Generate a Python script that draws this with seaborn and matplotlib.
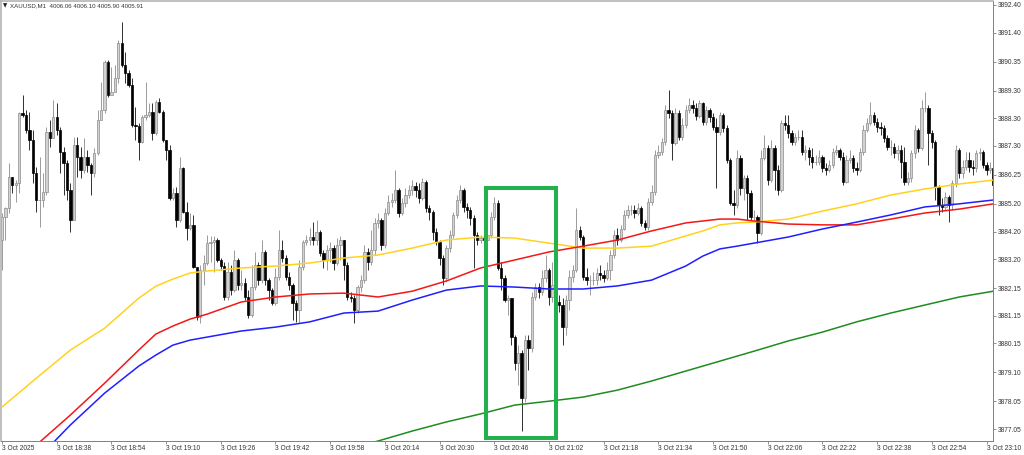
import numpy as np
import pandas as pd
import matplotlib
matplotlib.use("Agg")
import matplotlib.pyplot as plt
from matplotlib.patches import Rectangle
import seaborn as sns

sns.set_theme(style="white")
plt.rcParams["font.family"] = ["Liberation Sans", "DejaVu Sans"]

# ------------------------------------------------------------------
# DATA  (XAUUSD M1, 3 Oct 18:22 -> 23:12, one bar per minute)
# ------------------------------------------------------------------
first_time = "2025-10-03 18:22"
first_open = 3883.89

closes = [
    3884.73, 3885.05, 3886.18, 3885.88, 3885.95, 3888.49, 3888.42, 3887.87, 3887.51, 3886.32,
    3885.34, 3885.34, 3885.63, 3887.80, 3887.58, 3888.35, 3887.87, 3887.08, 3886.68, 3885.70,
    3884.62, 3887.33, 3886.90, 3886.43, 3886.90, 3886.61, 3886.32, 3887.04, 3888.24, 3888.60,
    3890.34, 3889.14, 3889.25, 3889.76, 3891.02, 3890.23, 3889.94, 3889.50, 3888.06, 3888.02,
    3887.44, 3888.35, 3888.42, 3888.52, 3887.76, 3888.89, 3888.52, 3887.51, 3887.15, 3885.41,
    3885.59, 3884.62, 3886.50, 3884.91, 3884.33, 3884.44, 3882.91, 3881.11,
    3882.81, 3883.06, 3883.78, 3883.82, 3883.89, 3883.17, 3882.95, 3881.83, 3882.73, 3882.08,
    3883.17, 3882.26, 3882.33, 3881.83, 3881.18, 3882.19, 3882.99, 3882.44, 3883.46, 3882.44,
    3882.08, 3881.61, 3882.55, 3883.53, 3883.24, 3882.55, 3882.26, 3881.61, 3881.36, 3882.91,
    3883.82, 3883.89, 3884.00, 3883.89, 3884.18, 3883.42, 3883.17, 3883.53, 3883.60, 3883.06,
    3883.71, 3883.89, 3882.99,
    3881.83, 3881.79, 3881.36, 3882.19, 3882.44, 3883.46, 3883.10, 3883.53, 3884.51,
    3884.62, 3883.71, 3884.87, 3885.27, 3885.34, 3885.70, 3884.87, 3885.23, 3885.52, 3885.70,
    3885.85, 3885.70, 3885.41, 3885.99, 3885.05, 3884.91, 3884.18, 3883.82, 3883.24, 3882.52,
    3883.60, 3884.07, 3884.80, 3885.34, 3885.70, 3885.09, 3884.98, 3884.69, 3884.07, 3883.89,
    3883.96, 3883.89, 3884.07, 3884.73, 3885.23, 3882.88, 3882.52, 3881.72, 3881.79, 3880.38,
    3879.44, 3879.80, 3878.17, 3880.27, 3879.98, 3881.83, 3882.19, 3882.01, 3882.52, 3882.81,
    3881.83, 3882.26, 3881.65, 3881.54, 3880.74, 3881.72, 3882.55, 3882.81, 3884.25, 3884.00,
    3882.55, 3882.44, 3882.44, 3882.44, 3882.70, 3882.62, 3882.52, 3882.81, 3883.35, 3884.07,
    3883.89, 3884.29, 3884.80, 3884.98, 3884.98, 3884.87, 3885.05, 3884.51, 3884.36, 3885.27,
    3885.63, 3886.97, 3887.08, 3887.44, 3888.60, 3888.49, 3887.40, 3888.49, 3887.62, 3888.06,
    3888.60, 3888.78, 3888.67, 3888.38, 3888.85, 3888.16, 3888.60, 3888.35, 3887.98, 3887.80,
    3888.42, 3887.95, 3886.79, 3885.23, 3885.16, 3886.86, 3885.77, 3886.14, 3885.59, 3884.73,
    3884.73, 3884.14, 3886.86, 3887.22, 3886.06, 3887.22, 3886.43, 3885.70, 3888.13, 3888.06,
    3887.76, 3887.44, 3887.62, 3887.62, 3887.08, 3887.15, 3886.90, 3886.72, 3886.72, 3886.90,
    3886.50, 3886.43, 3886.61, 3887.08, 3887.15, 3886.90, 3885.99, 3886.79, 3886.86, 3886.50,
    3886.43, 3887.08, 3887.87, 3888.13, 3888.42, 3888.16, 3887.98, 3887.95, 3887.58, 3887.26,
    3887.26, 3887.04, 3887.15, 3886.72, 3885.99, 3886.14, 3887.04, 3887.87, 3887.22, 3888.67,
    3888.67, 3887.76, 3887.44, 3885.81, 3885.16, 3885.09, 3885.45, 3885.16, 3885.95, 3887.15,
    3886.32, 3886.54, 3886.79, 3886.54, 3886.50, 3887.04, 3887.08, 3886.61, 3886.43, 3886.50,
    3885.88,
]

highs = [
    3884.87, 3885.09, 3886.68, 3886.18, 3886.06, 3888.52, 3889.14, 3888.60, 3888.52, 3887.87,
    3886.54, 3886.90, 3886.32, 3887.98, 3888.24, 3888.96, 3888.85, 3887.98, 3887.26, 3886.79,
    3885.95, 3887.62, 3887.62, 3887.26, 3887.58, 3887.15, 3886.68, 3887.22, 3888.60, 3889.61,
    3890.41, 3890.41, 3890.15, 3890.23, 3891.13, 3891.78, 3890.70, 3890.05, 3889.76, 3888.71,
    3888.13, 3888.42, 3889.61, 3888.85, 3888.85, 3888.96, 3889.03, 3888.60, 3887.51, 3887.33,
    3885.77, 3885.81, 3886.90, 3886.54, 3885.27, 3884.87, 3884.80, 3882.91,
    3882.99, 3883.35, 3884.07, 3884.04, 3884.04, 3883.96, 3883.24, 3883.10, 3883.10, 3882.99,
    3883.53, 3883.24, 3882.81, 3882.52, 3882.08, 3882.99, 3883.46, 3883.10, 3883.89, 3883.53,
    3882.52, 3882.15, 3882.88, 3884.25, 3883.89, 3883.35, 3882.73, 3882.33, 3881.72, 3883.17,
    3883.89, 3884.07, 3884.33, 3884.54, 3884.62, 3884.25, 3883.53, 3883.71, 3883.82, 3883.71,
    3883.96, 3884.04, 3883.89,
    3883.10, 3882.01, 3881.90, 3882.26, 3882.62, 3883.71, 3883.60, 3884.25, 3884.69,
    3884.87, 3884.69, 3885.05, 3885.52, 3885.59, 3886.43, 3885.77, 3885.41, 3885.77, 3885.88,
    3886.06, 3885.99, 3885.95, 3886.14, 3886.06, 3885.16, 3884.98, 3884.33, 3883.89, 3883.35,
    3883.71, 3884.25, 3884.91, 3885.52, 3885.88, 3885.77, 3885.23, 3885.09, 3884.80, 3884.18,
    3884.07, 3884.04, 3884.25, 3884.91, 3885.45, 3885.34, 3883.10, 3882.62, 3881.90, 3881.79,
    3880.45, 3880.09, 3879.91, 3880.45, 3880.45, 3882.01, 3882.33, 3882.33, 3882.81, 3883.35,
    3882.88, 3883.10, 3882.44, 3881.90, 3881.79, 3881.90, 3882.81, 3882.99, 3885.05, 3884.40,
    3884.07, 3882.88, 3882.62, 3882.73, 3882.88, 3882.99, 3882.81, 3883.10, 3883.53, 3884.25,
    3884.33, 3884.44, 3884.98, 3885.16, 3885.16, 3885.16, 3885.23, 3885.12, 3884.62, 3885.41,
    3885.88, 3887.15, 3887.33, 3887.58, 3888.78, 3889.32, 3888.60, 3888.67, 3888.60, 3888.31,
    3888.78, 3889.03, 3888.96, 3888.85, 3888.96, 3888.89, 3888.74, 3888.67, 3888.49, 3888.31,
    3888.52, 3888.49, 3888.06, 3886.86, 3885.70, 3887.15, 3886.97, 3886.25, 3886.25, 3885.70,
    3884.98, 3884.80, 3887.15, 3887.69, 3887.33, 3887.51, 3887.33, 3886.61, 3888.24, 3888.42,
    3888.42, 3887.87, 3887.76, 3887.87, 3887.87, 3887.33, 3887.26, 3887.22, 3886.97, 3887.15,
    3886.97, 3886.68, 3886.79, 3887.22, 3887.33, 3887.22, 3887.08, 3886.97, 3887.15, 3886.97,
    3886.72, 3887.22, 3888.06, 3888.31, 3888.89, 3888.52, 3888.31, 3888.16, 3888.06, 3887.69,
    3887.51, 3887.40, 3887.33, 3887.33, 3887.26, 3886.36, 3887.15, 3888.06, 3887.95, 3888.96,
    3889.25, 3888.78, 3887.87, 3887.51, 3885.88, 3885.41, 3885.63, 3885.52, 3886.06, 3887.33,
    3887.22, 3886.79, 3887.08, 3887.08, 3886.79, 3887.15, 3887.22, 3887.15, 3886.72, 3886.72,
    3886.61,
]

lows = [
    3882.81, 3883.89, 3884.87, 3885.59, 3885.27, 3885.59, 3888.35, 3887.76, 3887.15, 3885.95,
    3884.91, 3884.36, 3885.09, 3885.52, 3887.26, 3887.76, 3887.69, 3886.32, 3885.52, 3885.34,
    3884.18, 3884.62, 3886.18, 3886.14, 3886.32, 3886.36, 3885.52, 3886.18, 3886.97, 3888.24,
    3888.49, 3889.07, 3889.21, 3889.39, 3889.58, 3890.15, 3889.58, 3889.43, 3887.98, 3887.51,
    3886.79, 3887.40, 3888.24, 3888.35, 3887.51, 3887.69, 3888.49, 3887.44, 3886.79, 3885.34,
    3885.34, 3884.36, 3884.54, 3884.87, 3883.89, 3884.25, 3882.88, 3881.00,
    3880.89, 3882.26, 3882.99, 3883.10, 3882.73, 3883.10, 3882.81, 3881.72, 3881.72, 3881.90,
    3882.01, 3882.08, 3882.08, 3881.72, 3881.07, 3881.11, 3882.08, 3882.26, 3882.33, 3882.26,
    3881.72, 3881.54, 3881.54, 3882.44, 3883.10, 3882.44, 3882.08, 3881.00, 3880.93, 3880.89,
    3882.81, 3883.71, 3883.71, 3883.71, 3883.71, 3883.31, 3882.88, 3882.81, 3883.10, 3882.81,
    3882.99, 3883.17, 3882.44,
    3881.72, 3881.65, 3880.89, 3881.25, 3882.01, 3882.33, 3882.81, 3882.99, 3883.35,
    3884.33, 3883.53, 3883.60, 3884.80, 3885.09, 3885.23, 3884.73, 3884.80, 3885.09, 3885.41,
    3885.52, 3885.45, 3885.23, 3885.34, 3884.91, 3884.62, 3883.89, 3883.71, 3882.99, 3882.26,
    3882.37, 3883.46, 3883.96, 3884.69, 3885.23, 3884.91, 3884.69, 3884.44, 3882.88, 3883.71,
    3883.78, 3883.71, 3883.82, 3883.96, 3884.62, 3882.81, 3882.08, 3881.65, 3881.18, 3880.09,
    3879.19, 3878.64, 3876.98, 3878.03, 3879.19, 3879.84, 3881.72, 3881.79, 3881.90, 3882.37,
    3881.54, 3881.65, 3881.54, 3881.29, 3880.09, 3880.45, 3881.36, 3882.37, 3882.73, 3883.89,
    3882.44, 3882.26, 3881.90, 3882.26, 3882.26, 3882.44, 3882.37, 3882.44, 3882.44, 3883.24,
    3883.71, 3883.82, 3884.25, 3884.69, 3884.80, 3884.69, 3884.80, 3884.40, 3884.25, 3884.25,
    3885.16, 3885.52, 3886.86, 3886.97, 3887.33, 3888.31, 3886.79, 3887.33, 3887.51, 3887.51,
    3887.95, 3888.49, 3888.49, 3888.24, 3888.31, 3888.06, 3888.06, 3888.16, 3887.87, 3885.77,
    3887.69, 3887.80, 3886.68, 3885.16, 3884.80, 3885.05, 3885.52, 3885.34, 3884.62, 3884.62,
    3884.54, 3883.78, 3884.07, 3886.79, 3885.88, 3885.99, 3885.70, 3885.52, 3885.63, 3887.87,
    3887.58, 3887.33, 3887.33, 3887.51, 3886.97, 3886.79, 3886.61, 3886.50, 3886.61, 3886.61,
    3886.36, 3886.25, 3886.36, 3886.50, 3886.97, 3886.79, 3885.88, 3885.95, 3886.68, 3886.36,
    3886.25, 3886.36, 3886.97, 3887.80, 3888.06, 3888.06, 3887.80, 3887.69, 3887.44, 3887.15,
    3886.97, 3886.86, 3886.79, 3886.14, 3885.88, 3885.88, 3885.99, 3886.86, 3887.08, 3887.15,
    3888.52, 3886.61, 3887.22, 3885.34, 3884.80, 3884.91, 3884.98, 3884.54, 3884.98, 3885.81,
    3886.14, 3886.14, 3886.43, 3886.36, 3886.25, 3886.36, 3886.79, 3886.50, 3886.25, 3886.32,
    3885.77,
]

# moving averages at these bars
ma_bars = [1, 11, 21, 31, 41, 46, 51, 56, 61, 71, 81, 91, 101, 111, 121, 131, 141,
           151, 161, 171, 181, 191, 201, 206, 211, 216, 221, 231, 241, 251, 261, 271, 281, 291]
ma_yellow = [3877.85, 3878.89, 3879.91, 3880.70, 3881.79, 3882.22, 3882.48, 3882.70, 3882.77,
             3882.88, 3882.95, 3883.06, 3883.24, 3883.35, 3883.60, 3883.89, 3884.00, 3883.96,
             3883.78, 3883.60, 3883.60, 3883.67, 3884.04, 3884.22, 3884.44, 3884.51, 3884.54,
             3884.65, 3884.94, 3885.20, 3885.52, 3885.74, 3885.92, 3886.06]
ma_red = [3875.57, 3876.47, 3877.56, 3878.71, 3879.91, 3880.49, 3880.78, 3881.03, 3881.21,
          3881.65, 3881.83, 3881.94, 3881.97, 3881.83, 3882.04, 3882.41, 3882.88, 3883.17,
          3883.46, 3883.67, 3883.89, 3884.22, 3884.51, 3884.58, 3884.65, 3884.65, 3884.58,
          3884.47, 3884.44, 3884.44, 3884.65, 3884.87, 3885.01, 3885.20]
ma_blue = [3874.84, 3875.93, 3877.20, 3878.35, 3879.33, 3879.73, 3880.09, 3880.27, 3880.38,
           3880.60, 3880.74, 3880.93, 3881.25, 3881.32, 3881.72, 3882.08, 3882.23, 3882.19,
           3882.12, 3882.12, 3882.23, 3882.44, 3882.95, 3883.31, 3883.57, 3883.67, 3883.78,
           3884.00, 3884.29, 3884.54, 3884.80, 3885.09, 3885.20, 3885.34]
ma_green = [3872.49, 3872.85, 3873.21, 3873.57, 3873.97, 3874.19, 3874.37, 3874.59, 3874.77,
            3875.17, 3875.57, 3875.93, 3876.29, 3876.62, 3876.98, 3877.31, 3877.60, 3877.92,
            3878.06, 3878.21, 3878.46, 3878.79, 3879.15, 3879.33, 3879.51, 3879.69, 3879.87,
            3880.24, 3880.56, 3880.93, 3881.25, 3881.54, 3881.83, 3882.04]

price_ticks = [3892.40, 3891.40, 3890.35, 3889.30, 3888.30, 3887.30, 3886.25, 3885.20,
               3884.20, 3883.20, 3882.15, 3881.15, 3880.15, 3879.10, 3878.05, 3877.05]
time_ticks = ["18:22", "18:38", "18:54", "19:10", "19:26", "19:42", "19:58", "20:14", "20:30",
              "20:46", "21:02", "21:18", "21:34", "21:50", "22:06", "22:22", "22:38", "22:54", "23:10"]

header = "XAUUSD,M1  4006.06 4006.10 4005.90 4005.91"

# ------------------------------------------------------------------
# PREP
# ------------------------------------------------------------------
n = len(closes)
assert len(highs) == n and len(lows) == n, (n, len(highs), len(lows))
bars = np.arange(1, n + 1)
opens = np.array([first_open] + closes[:-1])
closes_a = np.array(closes)
up = closes_a >= opens

t0 = pd.Timestamp(first_time)
tick_bars = [int((pd.Timestamp(f"2025-10-03 {t}") - t0).total_seconds() // 60) + 1 for t in time_ticks]
tick_labels = ["3 Oct 2025"] + [f"3 Oct {t}" for t in time_ticks[1:]]

ma = pd.DataFrame({"bar": ma_bars, "yellow": ma_yellow, "red": ma_red,
                   "blue": ma_blue, "green": ma_green})

# ------------------------------------------------------------------
# PLOT
# ------------------------------------------------------------------
fig = plt.figure(figsize=(10.24, 4.55), dpi=100)
ax = fig.add_axes([1 / 1024, 14 / 455, 992 / 1024, 440 / 455])

wick_col = np.where(up, "#9a9a9a", "#303030")
ax.vlines(bars, lows, highs, colors=wick_col, linewidth=0.7, zorder=1)

body_face = np.where(up, "#d2d2d2", "#000000")
body_edge = np.where(up, "#8c8c8c", "#000000")
ax.bar(bars, np.abs(closes_a - opens), bottom=np.minimum(closes_a, opens),
       width=0.68, color=body_face, edgecolor=body_edge, linewidth=0.5, zorder=2)

line_colors = {"yellow": "#ffd21f", "red": "#f21818", "blue": "#1f1fff", "green": "#1f8c1f"}
for name, col in line_colors.items():
    sns.lineplot(data=ma, x="bar", y=name, ax=ax, color=col, linewidth=1.1,
                 legend=False, zorder=3, solid_joinstyle="round")

# highlight box around the dip
ax.add_patch(Rectangle((142.5, 3876.72), 20.5, 9.05, fill=False,
                       edgecolor="#22b14c", linewidth=2.9, zorder=4))

ax.set_xlim(0.7, 290.9)
ax.set_ylim(3876.62, 3892.54)
ax.set_xlabel("")
ax.set_ylabel("")

ax.yaxis.tick_right()
ax.set_yticks(price_ticks)
ax.set_yticklabels([f"{p:.2f}" for p in price_ticks])
ax.set_xticks(tick_bars)
ax.set_xticklabels(tick_labels)
for lab in ax.get_xticklabels():
    lab.set_ha("left")
ax.tick_params(axis="y", right=True, left=False, length=2.2, width=0.6, color="#808080",
               pad=1.5, labelsize=4.8, labelcolor="#333333")
ax.tick_params(axis="x", bottom=True, length=2.2, width=0.6, color="#808080",
               pad=1.0, labelsize=4.8, labelcolor="#333333")

for side in ["right", "bottom"]:
    ax.spines[side].set_color("#808080")
    ax.spines[side].set_linewidth(0.7)
for side in ["left", "top"]:
    ax.spines[side].set_color("#b4b4b4")
    ax.spines[side].set_linewidth(1.2)
ax.grid(False)

fig.text(3 / 1024, 1 - 6 / 455, "\u25bc", fontsize=4, va="center", color="#222222",
         family=["DejaVu Sans"])
fig.text(10 / 1024, 1 - 6 / 455, header, fontsize=4.4, va="center", color="#333333")

fig.savefig("out.png", dpi=100)
